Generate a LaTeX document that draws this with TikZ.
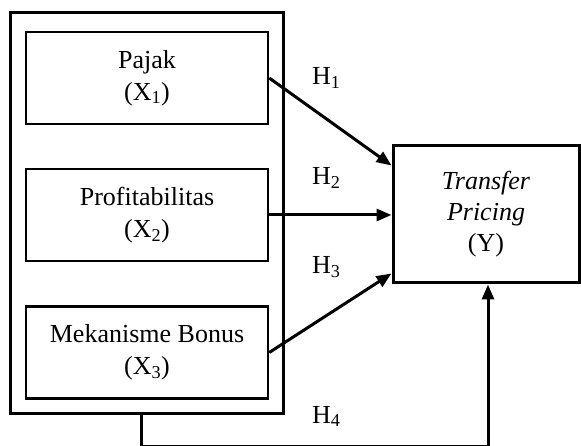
\documentclass[tikz,border=0pt]{standalone}
\usepackage{fontspec}
\setmainfont{Liberation Serif}
\usetikzlibrary{arrows.meta}
\begin{document}
\begin{tikzpicture}[x=1pt,y=-1pt,
  every node/.style={font=\fontsize{26}{32}\selectfont},
  varbox/.style={draw, line width=2.5pt, rectangle, align=center,
    minimum width=242pt, minimum height=92pt, inner sep=0pt},
  groupbox/.style={draw, line width=3pt, rectangle, minimum width=273pt,
    minimum height=400pt, inner sep=0pt},
  depbox/.style={draw, line width=3pt, rectangle, align=center,
    minimum width=186pt, minimum height=137pt, inner sep=0pt},
  link/.style={line width=3pt, -{Triangle[length=15pt,width=12pt]}},
  hyp/.style={anchor=base west, inner sep=0pt}]
\useasboundingbox (0,0) rectangle (581,446);

% independent variables grouped in one frame
\node[groupbox] (grp) at (146.5,213) {};
\node[varbox] (x1) at (147,78) {Pajak\\(X\textsubscript{1})};
\node[varbox] (x2) at (147,215) {Profitabilitas\\(X\textsubscript{2})};
\node[varbox] (x3) at (147,352.5) {Mekanisme Bonus\\(X\textsubscript{3})};

% dependent variable
\node[depbox] (y) at (486,214.5) {\textit{Transfer}\\[-1pt]\textit{Pricing}\\[-1pt](Y)};

% hypothesis paths
\draw[link] (x1.east) -- ([yshift=-21pt]y.north west);
\draw[link] (x2.east) -- (x2.east -| y.west);
\draw[link] (x3.east) -- ([yshift=11pt]y.south west);
\draw[link] ([xshift=-5.5pt]grp.south) -- ++(0,31.5) -| ([xshift=2pt]y.south);

% hypothesis labels
\node[hyp] (h1) at (312,85) {H\textsubscript{1}};
\node[hyp] (h2) at (312,185) {H\textsubscript{2}};
\node[hyp] (h3) at (312,274) {H\textsubscript{3}};
\node[hyp] (h4) at (312,423) {H\textsubscript{4}};
\end{tikzpicture}
\end{document}
